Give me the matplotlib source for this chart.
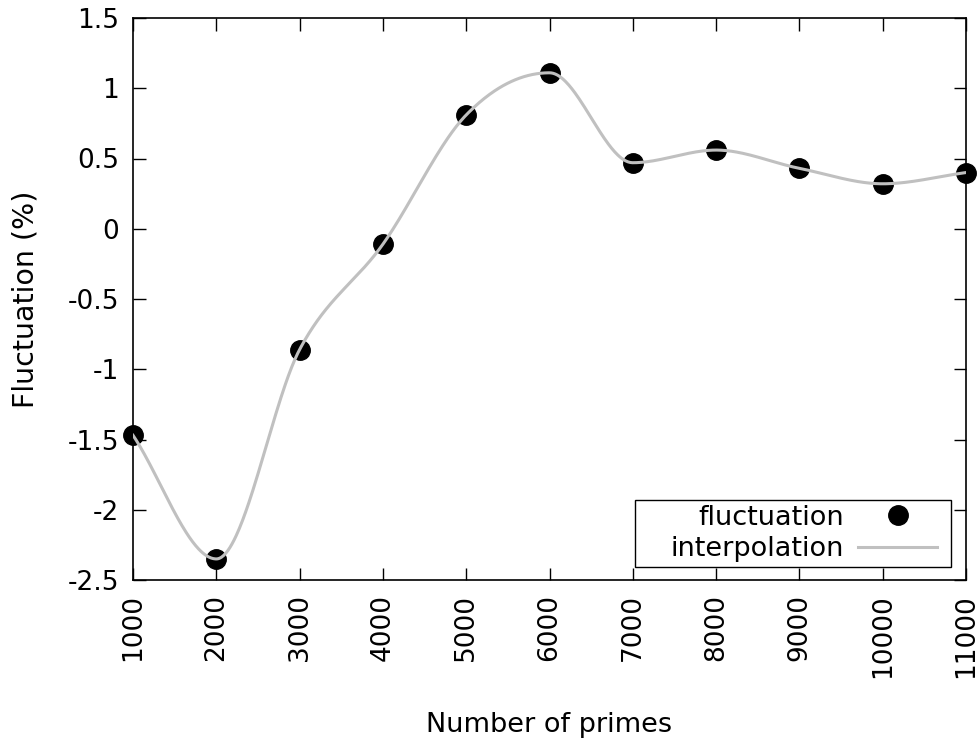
import numpy as np
import matplotlib.pyplot as plt
from matplotlib.patches import Rectangle

plt.rcParams['font.family'] = 'DejaVu Sans'
plt.rcParams['axes.unicode_minus'] = False

primes = [1000, 2000, 3000, 4000, 5000, 6000, 7000, 8000, 9000, 10000, 11000]
fluct = [-1.47, -2.35, -0.86, -0.11, 0.81, 1.11, 0.47, 0.56, 0.43, 0.32, 0.40]
yticks = [-2.5, -2, -1.5, -1, -0.5, 0, 0.5, 1, 1.5]
ytick_labels = ['-2.5', '-2', '-1.5', '-1', '-0.5', '0', '0.5', '1', '1.5']


def monotone_spline(x, y, n=800):
    # Fritsch-Carlson monotone cubic, like gnuplot "smooth mcsplines"
    x = np.asarray(x, float)
    y = np.asarray(y, float)
    h = np.diff(x)
    d = np.diff(y) / h
    m = np.empty_like(y)
    m[0], m[-1] = d[0], d[-1]
    m[1:-1] = (d[:-1] + d[1:]) / 2
    for i in range(1, len(x) - 1):
        if d[i - 1] * d[i] <= 0:
            m[i] = 0
    for i in range(len(d)):
        if d[i] == 0:
            m[i] = m[i + 1] = 0
            continue
        a, b = m[i] / d[i], m[i + 1] / d[i]
        s = a * a + b * b
        if s > 9:
            t = 3 / np.sqrt(s)
            m[i], m[i + 1] = t * a * d[i], t * b * d[i]
    xs = np.linspace(x[0], x[-1], n)
    idx = np.clip(np.searchsorted(x, xs) - 1, 0, len(x) - 2)
    hh = h[idx]
    t = (xs - x[idx]) / hh
    h00 = 2 * t ** 3 - 3 * t ** 2 + 1
    h10 = t ** 3 - 2 * t ** 2 + t
    h01 = -2 * t ** 3 + 3 * t ** 2
    h11 = t ** 3 - t ** 2
    ys = h00 * y[idx] + h10 * hh * m[idx] + h01 * y[idx + 1] + h11 * hh * m[idx + 1]
    return xs, ys


fs = 19
fig = plt.figure(figsize=(9.8, 7.45), dpi=100)
ax = fig.add_axes([133 / 980, 1 - 580 / 745, (966 - 133) / 980, (580 - 18) / 745])

xs, ys = monotone_spline(primes, fluct)
ax.plot(primes, fluct, 'o', color='black', markersize=14, label='fluctuation', zorder=3, clip_on=False)
ax.plot(xs, ys, '-', color='#c0c0c0', linewidth=2.2, label='interpolation', zorder=4)

ax.set_xlim(1000, 11000)
ax.set_ylim(-2.5, 1.5)
ax.set_xticks(primes)
ax.set_xticklabels([str(p) for p in primes], rotation=90, fontsize=fs)
ax.set_yticks(yticks)
ax.set_yticklabels(ytick_labels, fontsize=fs)
ax.tick_params(direction='in', length=9, width=1, top=True, right=True, pad=10)
for s in ax.spines.values():
    s.set_linewidth(1.2)

ax.set_xlabel('Number of primes', fontsize=fs + 0.5, labelpad=25)
ax.set_ylabel('Fluctuation (%)', fontsize=fs + 1.5, labelpad=20)

# gnuplot-style key: right-aligned labels, box drawn separately
ax.add_patch(Rectangle((635 / 980, 1 - 567 / 745), 316 / 980, 67 / 745,
                       transform=fig.transFigure, facecolor='white',
                       edgecolor='black', linewidth=1, zorder=5, clip_on=False))
leg = ax.legend(loc='lower right', bbox_to_anchor=(937 / 980, 1 - 562 / 745),
                bbox_transform=fig.transFigure, markerfirst=False, fontsize=fs + 0.5,
                handlelength=2.9, frameon=False, borderpad=0,
                labelspacing=0.2, handletextpad=0.55, borderaxespad=0)
leg.set_zorder(6)

fig.savefig('out.png', dpi=100)
